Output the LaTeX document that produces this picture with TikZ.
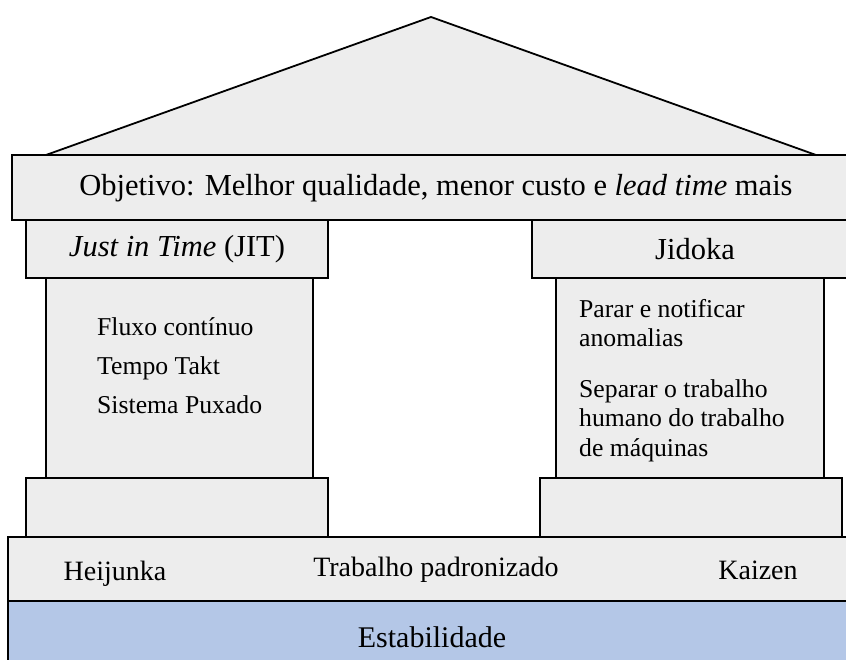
\documentclass[tikz,border=0pt]{standalone}
\usepackage{fontspec}
\setmainfont{Liberation Serif}
\usepackage{tikz}
\usetikzlibrary{positioning}
\definecolor{panelgray}{HTML}{EDEDED}
\definecolor{stablue}{HTML}{B4C7E7}
\tikzset{
  block/.style={draw, line width=1.8pt, fill=panelgray, inner sep=0pt},
  headtxt/.style={font=\fontsize{30.5}{36}\selectfont},
  colitem/.style={anchor=west, inner sep=0pt, align=left, font=\fontsize{25.7}{29.5}\selectfont},
  basetxt/.style={inner sep=0pt, font=\fontsize{28}{33}\selectfont}
}

\begin{document}
\begin{tikzpicture}[x=1pt, y=1pt]
  \useasboundingbox (0,0) rectangle (846,660);
  % roof
  \coordinate (eaveL) at (46,505);
  \coordinate (apex) at (431,643);
  \coordinate (eaveR) at (816,505);
  \draw[line width=1.8pt, fill=panelgray, line join=miter] (eaveL) -- (apex) -- (eaveR) -- cycle;
  % goal beam
  \node[block, minimum width=848pt, minimum height=65pt] (goal) at (436,472.5) {};
  \node[headtxt] (goaltxt) at (436,472) {Objetivo: Melhor qualidade, menor custo e \textit{lead time} mais};
  % pillar heads
  \node[block, headtxt, minimum width=302pt, minimum height=58pt] (jit) at (177,411) {\textit{Just in Time} (JIT)};
  \node[block, headtxt, minimum width=326pt, minimum height=58pt] (jidoka) at (695,411) {Jidoka};
  % pillar shafts
  \node[block, minimum width=267pt, minimum height=200pt] (jitcol) at (179.5,282) {};
  \node[block, minimum width=268pt, minimum height=200pt] (jidcol) at (690,282) {};
  \node[colitem] (fluxo) at (97,333) {Fluxo contínuo};
  \node[colitem] (takt) at (97,292) {Tempo Takt};
  \node[colitem] (puxado) at (97,255) {Sistema Puxado};
  \node[colitem, anchor=north west] (parar) at (579,361) {Parar e notificar\\anomalias};
  \node[colitem, anchor=north west] (separar) at (579,281) {Separar o trabalho\\humano do trabalho\\de máquinas};
  % pillar bases
  \node[block, minimum width=302pt, minimum height=59pt] (jitbase) at (177,152.5) {};
  \node[block, minimum width=302pt, minimum height=59pt] (jidbase) at (691,152.5) {};
  % foundation
  \node[block, minimum width=852pt, minimum height=64pt] (band) at (434,91) {};
  \node[basetxt] (heijunka) at (115,86) {Heijunka};
  \node[basetxt] (padrao) at (436,90) {Trabalho padronizado};
  \node[basetxt] (kaizen) at (758,90) {Kaizen};
  \node[block, fill=stablue, minimum width=852pt, minimum height=63pt] (estab) at (434,27.5) {};
  \node[basetxt, font=\fontsize{30}{36}\selectfont] (estabtxt) at (432,23) {Estabilidade};
\end{tikzpicture}
\end{document}
